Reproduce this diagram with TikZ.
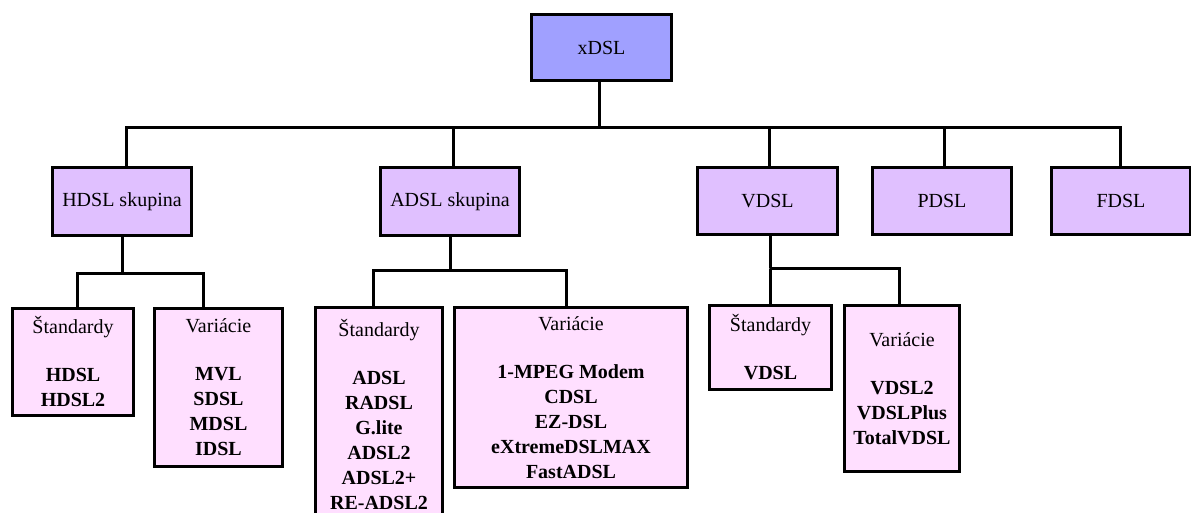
\documentclass[tikz,border=0pt]{standalone}
\usepackage{fontspec}
\setmainfont{Liberation Serif}
\definecolor{rootfill}{HTML}{A0A0FF}
\definecolor{groupfill}{HTML}{E0C0FF}
\definecolor{leaffill}{HTML}{FFDFFF}
\tikzset{
  box/.style={draw=black, line width=3pt, inner sep=0pt, align=center,
    font=\fontsize{20}{25}\selectfont},
  root/.style={box, fill=rootfill},
  group/.style={box, fill=groupfill},
  leaf/.style={box, fill=leaffill},
  wire/.style={draw=black, line width=3pt}
}
\newcommand{\hd}[1]{#1\\[23pt]}
\begin{document}
\begin{tikzpicture}[x=1pt, y=-1pt]
\useasboundingbox (0,0) rectangle (1191,513);

% root
\node[root, minimum width=140, minimum height=66] (xdsl) at (601.5,47.5) {xDSL};

% families
\node[group, minimum width=139, minimum height=68] (hdsl) at (122,201.5) {HDSL skupina};
\node[group, minimum width=139, minimum height=68] (adsl) at (450,201.5) {ADSL skupina};
\node[group, minimum width=140, minimum height=67] (vdsl) at (767.5,201) {VDSL};
\node[group, minimum width=139, minimum height=67] (pdsl) at (942,201) {PDSL};
\node[group, minimum width=139, minimum height=66] (fdsl) at (1121,201) {FDSL};

% standards and variants
\node[leaf, minimum width=121, minimum height=107] (hstd) at (73,362)
  {\hd{Štandardy}\textbf{HDSL}\\\textbf{HDSL2}};
\node[leaf, minimum width=128, minimum height=158] (hvar) at (218.5,387.5)
  {\hd{Variácie}\textbf{MVL}\\\textbf{SDSL}\\\textbf{MDSL}\\\textbf{IDSL}};
\node[leaf, minimum width=127, minimum height=215] (astd) at (379,415)
  {\hd{Štandardy}\textbf{ADSL}\\\textbf{RADSL}\\\textbf{G.lite}\\\textbf{ADSL2}\\\textbf{ADSL2+}\\\textbf{RE-ADSL2}};
\node[leaf, minimum width=233, minimum height=180] (avar) at (571,397.5)
  {\hd{Variácie}\textbf{1-MPEG Modem}\\\textbf{CDSL}\\\textbf{EZ-DSL}\\\textbf{eXtremeDSLMAX}\\\textbf{FastADSL}};
\node[leaf, minimum width=122, minimum height=84] (vstd) at (770.5,347.5)
  {\hd{Štandardy}\textbf{VDSL}};
\node[leaf, minimum width=115, minimum height=166] (vvar) at (902,388.5)
  {\hd{Variácie}\textbf{VDSL2}\\\textbf{VDSLPlus}\\\textbf{TotalVDSL}};

% junction points
\coordinate (bus) at (599,128);
\coordinate (hj) at (122,273);
\coordinate (aj) at (450,270);
\coordinate (vj) at (770,268);

% root to families
\draw[wire] ([xshift=-2.5pt]xdsl.south) -- (bus);
\draw[wire] ([xshift=4pt]hdsl.north) |- (bus) -| ([xshift=-1pt]fdsl.north);
\draw[wire] ([xshift=3pt]adsl.north) |- (bus);
\draw[wire] ([xshift=1.5pt]vdsl.north) |- (bus);
\draw[wire] ([xshift=2pt]pdsl.north) |- (bus);

% HDSL branch
\draw[wire] (hdsl.south) -- (hj);
\draw[wire] ([xshift=4pt]hstd.north) |- (hj);
\draw[wire] ([xshift=-15.5pt]hvar.north) |- (hj);

% ADSL branch
\draw[wire] (adsl.south) -- (aj);
\draw[wire] ([xshift=-6pt]astd.north) |- (aj);
\draw[wire] ([xshift=-5pt]avar.north) |- (aj);

% VDSL branch
\draw[wire] ([xshift=2.5pt]vdsl.south) -- (vj);
\draw[wire] (vstd.north) |- (vj);
\draw[wire] ([xshift=-3pt]vvar.north) |- (vj);
\end{tikzpicture}
\end{document}
